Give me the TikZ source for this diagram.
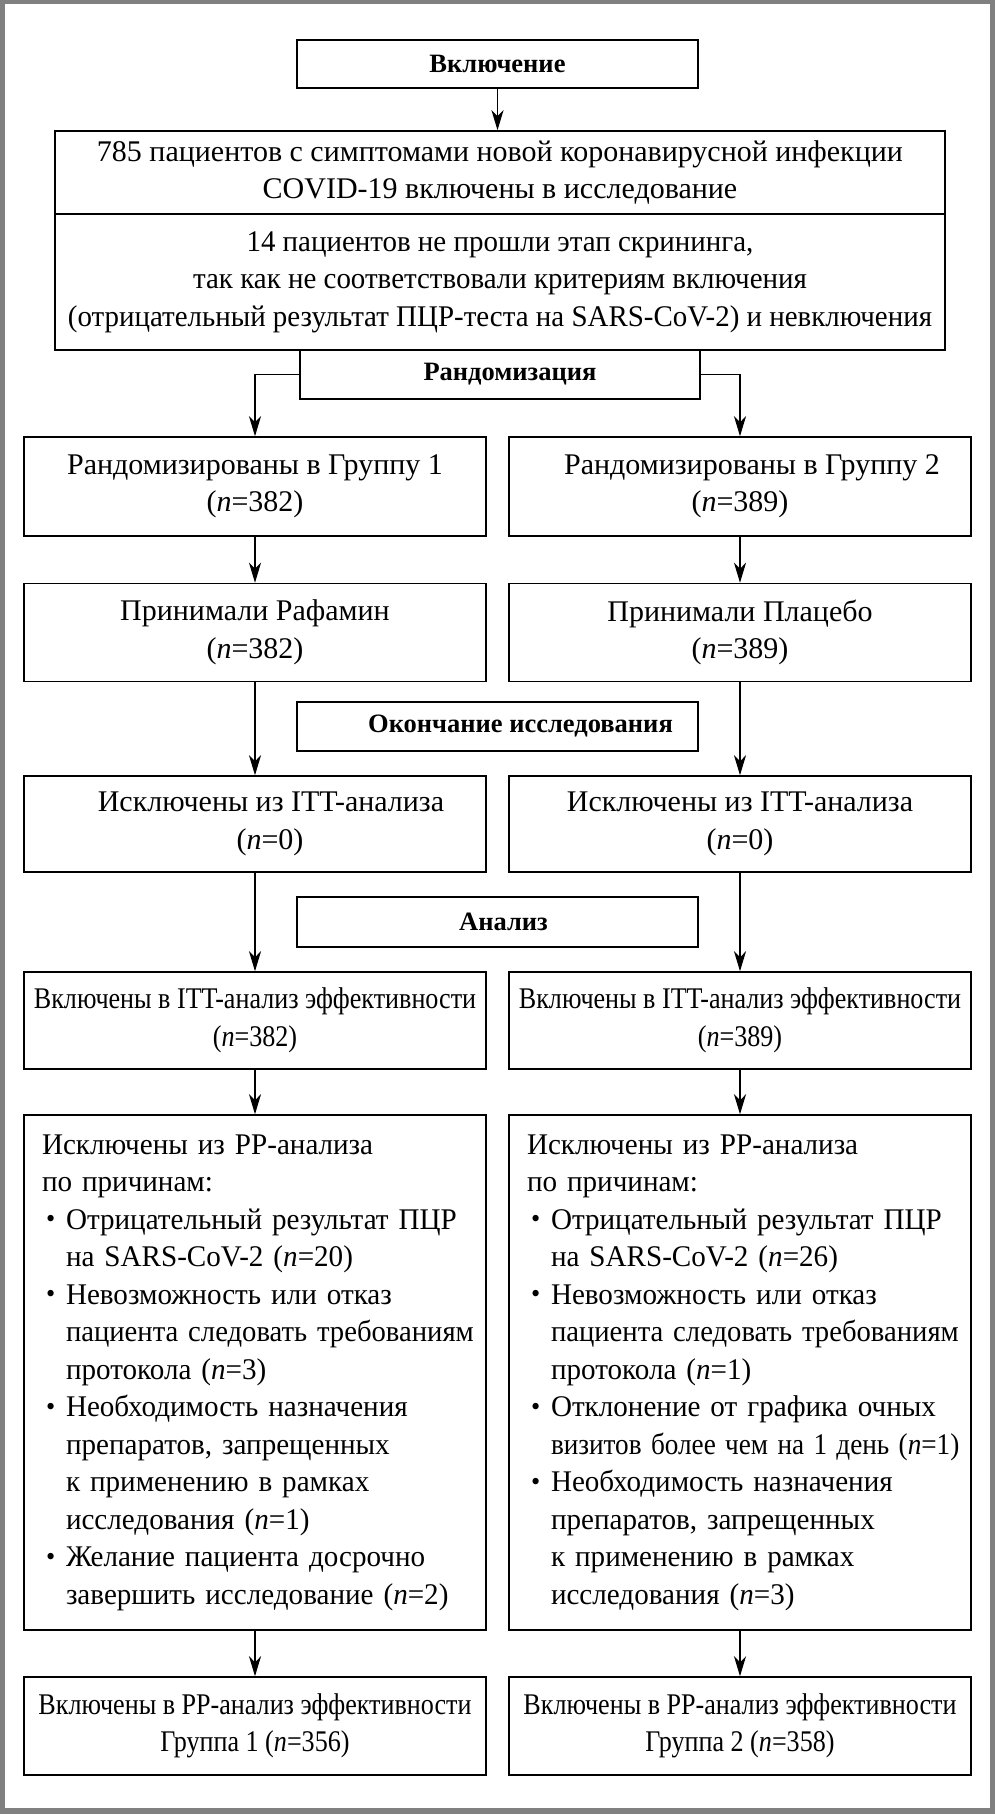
\documentclass[tikz,border=0pt]{standalone}
\usepackage{fontspec}
\usepackage{graphicx}
\setmainfont{Liberation Serif}
\newfontfamily\condfont{Liberation Serif}[FakeStretch=0.87]
\newfontfamily\scrfont{Liberation Serif}[FakeStretch=0.965]
\newfontfamily\listfont{Liberation Serif}[FakeStretch=0.97]
\usetikzlibrary{arrows.meta}
\definecolor{framegray}{RGB}{128,128,128}
\newcommand\bulitem{\makebox[24pt][l]{\hspace*{4pt}\raisebox{1.5pt}{\fontsize{27}{27}\selectfont\textbullet}}}
\newcommand\itemind{\hspace*{24pt}}
\begin{document}
\begin{tikzpicture}[x=1pt,y=-1pt,
  box/.style={draw, line width=1.5pt, inner sep=0pt, align=center,
    font=\fontsize{30}{37.5}\selectfont},
  condbox/.style={box, font=\condfont\fontsize{30}{37.5}\selectfont},
  scrbox/.style={box, font=\scrfont\fontsize{30}{37.5}\selectfont},
  listbox/.style={box, align=left, text width=426pt, inner xsep=18pt,
    font=\listfont\fontsize{30}{37.5}\selectfont},
  head/.style={box, font=\bfseries\fontsize{26.5}{30}\selectfont},
  arr/.style={line width=1.2pt, -{Stealth[length=20pt,width=12pt,inset=6pt]}}]
\useasboundingbox (0,0) rectangle (995,1814);
\fill[framegray] (0,0) rectangle (995,1814);
\fill[white] (5,4) rectangle (990,1808);

\node[head, minimum width=401, minimum height=48] (incl) at (497.5,64) {Включение};
\node[box, minimum width=890, minimum height=83] (top) at (500,172.5)
  {785 пациентов с симптомами новой коронавирусной инфекции\\COVID-19 включены в исследование};
\node[scrbox, minimum width=890, minimum height=136] (scr) at (500,282)
  {14 пациентов не прошли этап скрининга,\\так как не соответствовали критериям включения\\(отрицательный результат ПЦР-теста на SARS-CoV-2) и невключения};
\node[head, minimum width=400, minimum height=49] (rand) at (500,374.5) {\hspace*{20pt}Рандомизация};

\node[box, minimum width=462, minimum height=99] (g1) at (255,486.5)
  {Рандомизированы в Группу 1\\(\textit{n}=382)};
\node[box, minimum width=462, minimum height=99] (g2) at (740,486.5)
  {\hspace*{24pt}Рандомизированы в Группу 2\\(\textit{n}=389)};

\node[box, minimum width=462, minimum height=98] (t1) at (255,632.5)
  {Принимали Рафамин\\(\textit{n}=382)};
\node[box, minimum width=462, minimum height=98] (t2) at (740,632.5)
  {Принимали Плацебо\\(\textit{n}=389)};

\node[head, minimum width=401, minimum height=49] (endst) at (497.5,726.5)
  {\hspace*{46pt}Окончание исследования};

\node[box, minimum width=462, minimum height=96] (x1) at (255,824)
  {\hspace*{32pt}Исключены из ITT-анализа\\\hspace*{30pt}(\textit{n}=0)};
\node[box, minimum width=462, minimum height=96] (x2) at (740,824)
  {Исключены из ITT-анализа\\(\textit{n}=0)};

\node[head, minimum width=401, minimum height=50] (anl) at (497.5,922)
  {\hspace*{12pt}Анализ};

\node[condbox, minimum width=462, minimum height=97] (i1) at (255,1020.5)
  {Включены в ITT-анализ эффективности\\(\textit{n}=382)};
\node[condbox, minimum width=462, minimum height=97] (i2) at (740,1020.5)
  {Включены в ITT-анализ эффективности\\(\textit{n}=389)};

\node[listbox, minimum height=515] (p1) at (255,1372.5)
  {Исключены из РР-анализа\\
   по причинам:\\
   \bulitem Отрицательный результат ПЦР\\
   \itemind на SARS-CoV-2 (\textit{n}=20)\\
   \bulitem Невозможность или отказ\\
   \mbox{\itemind\scalebox{0.985}[1]{пациента следовать требованиям}}\\
   \itemind протокола (\textit{n}=3)\\
   \bulitem Необходимость назначения\\
   \itemind препаратов, запрещенных\\
   \itemind к применению в рамках\\
   \itemind исследования (\textit{n}=1)\\
   \bulitem Желание пациента досрочно\\
   \itemind завершить исследование (\textit{n}=2)};
\node[listbox, minimum height=515] (p2) at (740,1372.5)
  {Исключены из РР-анализа\\
   по причинам:\\
   \bulitem Отрицательный результат ПЦР\\
   \itemind на SARS-CoV-2 (\textit{n}=26)\\
   \bulitem Невозможность или отказ\\
   \mbox{\itemind\scalebox{0.985}[1]{пациента следовать требованиям}}\\
   \itemind протокола (\textit{n}=1)\\
   \bulitem Отклонение от графика очных\\
   \mbox{\itemind\scalebox{0.935}[1]{визитов более чем на 1 день (\textit{n}=1)}}\\
   \bulitem Необходимость назначения\\
   \itemind препаратов, запрещенных\\
   \itemind к применению в рамках\\
   \itemind исследования (\textit{n}=3)};

\node[condbox, minimum width=462, minimum height=98] (f1) at (255,1726)
  {Включены в РР-анализ эффективности\\Группа 1 (\textit{n}=356)};
\node[condbox, minimum width=462, minimum height=98] (f2) at (740,1726)
  {Включены в РР-анализ эффективности\\Группа 2 (\textit{n}=358)};

\draw[arr] (incl.south) -- (incl.south |- top.north);
\draw[arr] (rand.west) -| (g1.north);
\draw[arr] (rand.east) -| (g2.north);
\foreach \a/\b in {g1/t1,g2/t2,t1/x1,t2/x2,x1/i1,x2/i2,i1/p1,i2/p2,p1/f1,p2/f2}
  \draw[arr] (\a.south) -- (\b.north);
\end{tikzpicture}
\end{document}
